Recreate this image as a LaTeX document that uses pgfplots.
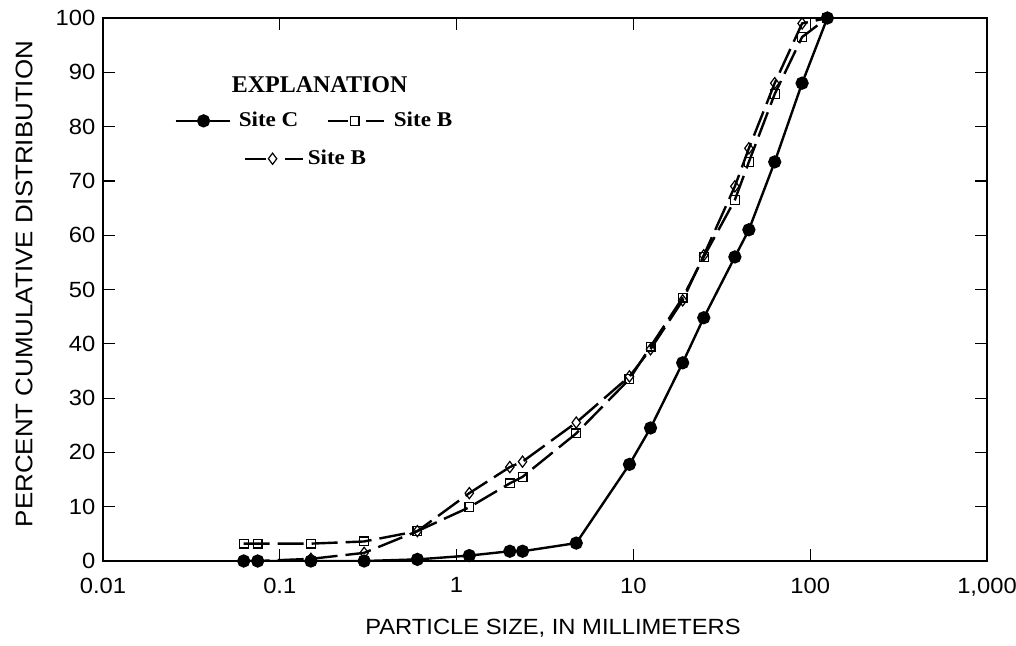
\documentclass[border=0pt]{standalone}
\usepackage{fontspec}
\setmainfont[FakeStretch=1.08]{Liberation Sans}
\newfontfamily\legfont[FakeStretch=1.1]{Liberation Serif}
\newfontfamily\titfont{Liberation Serif}
\usepackage{pgfplots}
\pgfplotsset{compat=1.18}
\pgfplotsset{
  legC/.style={legend image code/.code={\draw[##1,mark repeat=2,mark phase=2] plot coordinates {(0pt,0pt)(14pt,0pt)(27pt,0pt)};}},
  legB/.style={legend image code/.code={\draw[##1,dash pattern=on 10pt off 9pt on 9pt,mark repeat=2,mark phase=2] plot coordinates {(0pt,0pt)(13.5pt,0pt)(28.5pt,0pt)};}},
  legBB/.style={legend image code/.code={\path (0pt,0pt); \draw[##1,overlay,xshift=34.5pt,dash pattern=on 10.5pt off 9.5pt on 9pt,mark repeat=2,mark phase=2] plot coordinates {(0pt,0pt)(14pt,0pt)(29pt,0pt)};}},
}
\begin{document}
\fontsize{11}{13}\selectfont
\begin{tikzpicture}
\useasboundingbox (-51.5pt,-42pt) rectangle (456.5pt,280.5pt);
\begin{axis}[
    scale only axis,
    width=442pt, height=271.5pt,
    xmode=log,
    xmin=0.01, xmax=1000,
    ymin=0, ymax=100,
    xtick={0.01,0.1,1,10,100,1000},
    xticklabels={0.01,0.1,1,10,100,{1,000}},
    ytick={0,10,...,100},
    xminorticks=false,
    tick align=inside,
    major tick length=6pt,
    tick style={black, line width=0.6pt},
    axis line style={line width=0.6pt},
    /pgf/number format/assume math mode=true,
    xticklabel style={yshift=-4.5pt},
    xlabel={PARTICLE SIZE, IN MILLIMETERS},
    ylabel={PERCENT CUMULATIVE DISTRIBUTION},
    every axis x label/.style={at={([yshift=-33.5pt]rel axis cs:0.509,0)}, anchor=center},
    every axis y label/.style={at={([xshift=-39.5pt]rel axis cs:0,0.51)}, rotate=90, anchor=center, font=\fontsize{12}{14}\selectfont},
    legend columns=2,
    legend cell align=left,
    legend style={draw=none, fill=none, font=\legfont\bfseries\fontsize{10.5}{12}\selectfont,
        at={(rel axis cs:0.0735,0.8425)}, anchor=north west,
        /tikz/every even column/.append style={column sep=12pt},
        /tikz/every odd column/.append style={column sep=2pt},
        row sep=6pt},
]
% Site B, open diamonds (drawn first so the dots of Site C lie on top at 0)
\addplot[black, line width=1.2pt, dash pattern=on 13pt off 4pt, mark=diamond, mark size=2.8pt,
    mark options={solid, fill=white, line width=0.6pt}, forget plot]
  coordinates {
  (0.0625,0) (0.075,0) (0.15,0.4) (0.3,1.5) (0.6,5.5) (1.18,12.5) (2.0,17.3) (2.36,18.3)
  (4.75,25.5) (9.5,34) (12.5,39) (19,48) (25,56.3) (37.5,69) (45,76)
  (63,88) (90,99) (125,100)
};
% Site C, filled circles
\addplot[black, line width=1.2pt, mark=*, mark size=2.7pt, legC]
  coordinates {
  (0.0625,0) (0.075,0) (0.15,0) (0.3,0) (0.6,0.3) (1.18,1.0) (2.0,1.8) (2.36,1.8)
  (4.75,3.3) (9.5,17.8) (12.5,24.5) (19,36.5) (25,44.8) (37.5,56) (45,61)
  (63,73.5) (90,88) (125,100)
};
\addlegendentry{Site C}
% Site B, open squares
\addplot[black, line width=1.2pt, dash pattern=on 13pt off 4pt, mark=square, mark size=2.2pt,
    mark options={solid, fill=white, line width=0.6pt}, legB]
  coordinates {
  (0.0625,3.2) (0.075,3.2) (0.15,3.2) (0.3,3.6) (0.6,5.5) (1.18,9.9) (2.0,14.3) (2.36,15.5)
  (4.75,23.5) (9.5,33.5) (12.5,39.5) (19,48.5) (25,56) (37.5,66.5) (45,73.5)
  (63,86) (90,96.5) (125,100)
};
\addlegendentry{Site B}
\addlegendimage{black, line width=1.2pt, mark=diamond, mark size=2.8pt,
    mark options={solid, fill=white, line width=0.6pt}, legBB}
\addlegendentry{\rlap{\hspace{34.5pt}Site B}}
\node[font=\titfont\bfseries\fontsize{12}{14}\selectfont, anchor=center]
  at (rel axis cs:0.245,0.878) {EXPLANATION};
\end{axis}
\end{tikzpicture}
\end{document}
